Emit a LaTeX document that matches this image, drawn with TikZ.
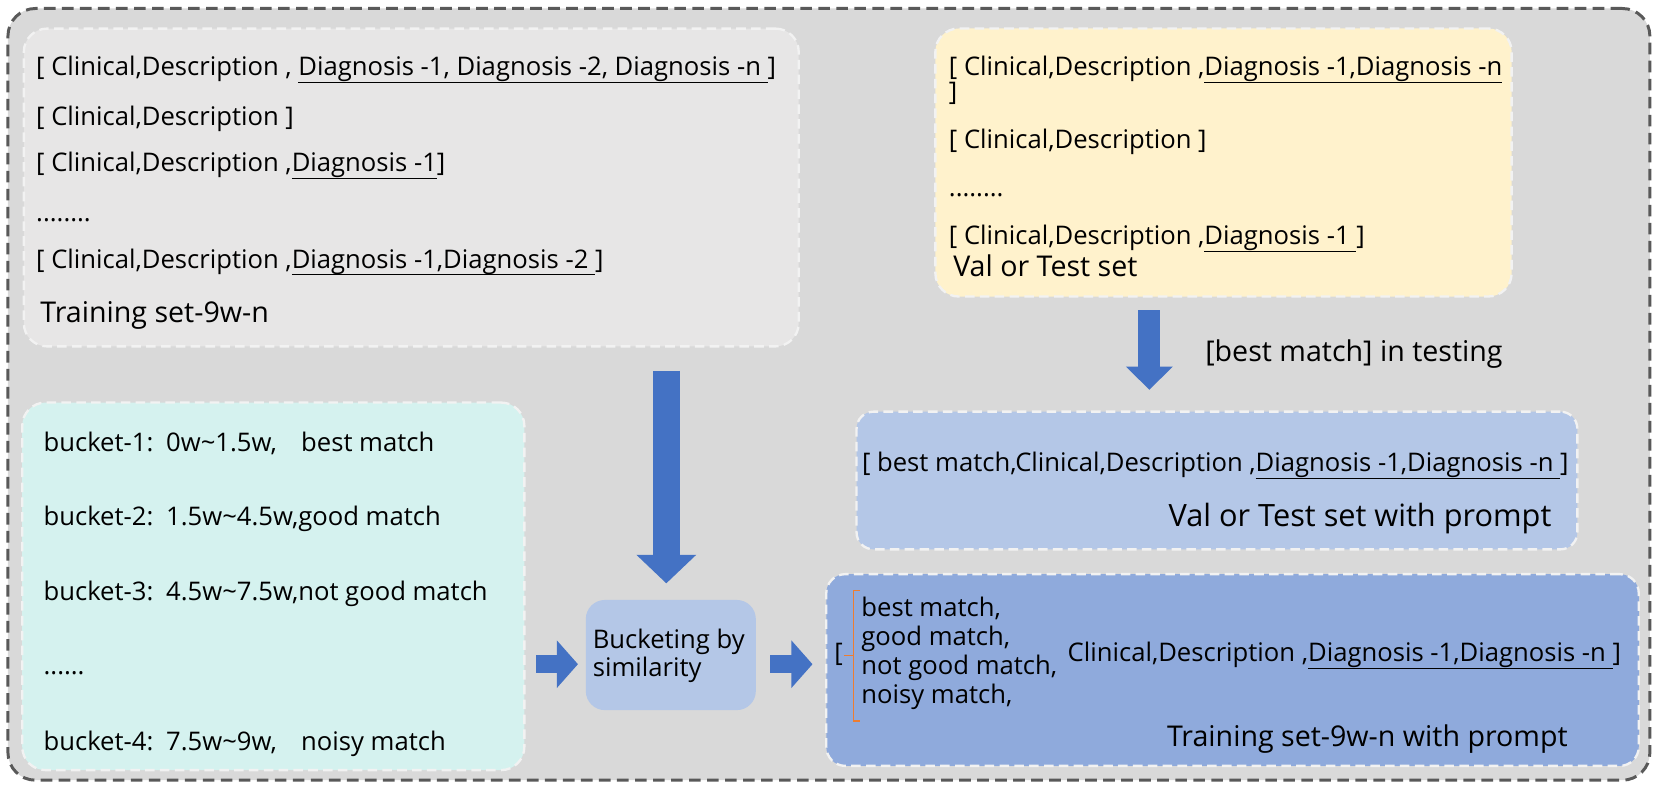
\documentclass[tikz,border=0pt]{standalone}
\usepackage{fontspec}
\setmainfont{Open Sans}
\usetikzlibrary{arrows.meta}
\definecolor{outerfill}{HTML}{D9D9D9}
\definecolor{outerline}{HTML}{595959}
\definecolor{greybox}{HTML}{E7E6E6}
\definecolor{yellowbox}{HTML}{FFF2CC}
\definecolor{tealbox}{HTML}{D5F2EF}
\definecolor{bluelight}{HTML}{B4C7E7}
\definecolor{bluemid}{HTML}{8FAADC}
\definecolor{arrowblue}{HTML}{4472C4}
\definecolor{bracketorange}{HTML}{ED7D31}
\definecolor{dashwhite}{HTML}{F2F2F2}
\newcommand{\myul}[1]{\setbox0=\hbox{#1}\leavevmode\rlap{\rule[-7pt]{\wd0}{1.1pt}}\box0}
\begin{document}
\begin{tikzpicture}[x=1pt,y=-1pt,
  panel/.style={draw=dashwhite, line width=2.2pt, dash pattern=on 9pt off 5pt, rounded corners=22pt, inner sep=0pt},
  txt/.style={anchor=base west, inner sep=0pt, font=\fontsize{24.2}{26}\selectfont},
  bigtxt/.style={anchor=base west, inner sep=0pt, font=\fontsize{27}{30}\selectfont},
  hugetxt/.style={anchor=base west, inner sep=0pt, font=\fontsize{29}{32}\selectfont},
  arrowL/.style={draw=arrowblue, line width=26pt, -{Triangle[length=27pt,width=55pt]}},
  arrowM/.style={draw=arrowblue, line width=21pt, -{Triangle[length=22pt,width=43pt]}},
  arrowS/.style={draw=arrowblue, line width=17pt, -{Triangle[length=20pt,width=44pt]}},
  orangebr/.style={draw=bracketorange, line width=1.2pt}
]
\useasboundingbox (0,0) rectangle (1568,747);
% outer frame
\node[draw=outerline, fill=outerfill, line width=2.8pt, dash pattern=on 11pt off 6pt,
  rounded corners=26pt, minimum width=1550pt, minimum height=728.5pt, inner sep=0pt] (outer) at (782.5,372.25) {};
% panels
\node[panel, fill=greybox, minimum width=731.5pt, minimum height=300pt] (train) at (388.25,177) {};
\node[panel, fill=yellowbox, minimum width=544pt, minimum height=253pt] (val) at (1155,153.4) {};
\node[panel, fill=tealbox, minimum width=474pt, minimum height=347pt] (teal) at (258,553.5) {};
\node[panel, fill=bluelight, minimum width=680.4pt, minimum height=130pt, rounded corners=16pt] (valp) at (1148.8,453.6) {};
\node[panel, fill=bluemid, minimum width=767pt, minimum height=181pt, rounded corners=18pt] (trainp) at (1163.5,632.5) {};
\node[fill=bluelight, rounded corners=18pt, minimum width=160.5pt, minimum height=104pt, inner sep=0pt] (bucket) at (633.25,618.35) {};

% training set text
\node[txt] (t1) at (34,71.7) {[ Clinical,Description , \myul{Diagnosis -1, Diagnosis -2, Diagnosis -n }]};
\node[txt] (t2) at (34,118) {[ Clinical,Description ]};
\node[txt] (t3) at (34,162) {[ Clinical,Description ,\myul{Diagnosis -1}]};
\node[txt] (t4) at (34,209) {........};
\node[txt] (t5) at (34,253) {[ Clinical,Description ,\myul{Diagnosis -1,Diagnosis -2 }]};
\node[bigtxt] (t6) at (38,304.6) {Training set-9w-n};

% val / test text
\node[txt] (v1) at (895.6,71.7) {[ Clinical,Description ,\myul{Diagnosis -1,Diagnosis -n}};
\node[txt] (v1b) at (895.6,95) {]};
\node[txt] (v2) at (895.6,140) {[ Clinical,Description ]};
\node[txt] (v3) at (895.6,185.7) {........};
\node[txt] (v4) at (895.6,231) {[ Clinical,Description ,\myul{Diagnosis -1 }]};
\node[bigtxt] (v5) at (899.7,261) {Val or Test set};
\node[bigtxt] (bm) at (1137.6,341.4) {[best match] in testing};

% buckets
\node[txt] (b1) at (41,425.8) {bucket-1:\hspace{0.5em}0w\textasciitilde1.5w,\hspace{0.95em}best match};
\node[txt] (b2) at (41,495.6) {bucket-2:\hspace{0.5em}1.5w\textasciitilde4.5w,good match};
\node[txt] (b3) at (41,566.4) {bucket-3:\hspace{0.5em}4.5w\textasciitilde7.5w,not good match};
\node[txt] (b4) at (41,637) {......};
\node[txt] (b5) at (41,708) {bucket-4:\hspace{0.5em}7.5w\textasciitilde9w,\hspace{0.95em}noisy match};

% bucketing box text
\node[txt] (k1) at (559.4,612) {Bucketing by};
\node[txt] (k2) at (559.4,638.8) {similarity};

% val with prompt
\node[txt] (p1) at (813.6,445.3) {[ best match,Clinical,Description ,\myul{Diagnosis -1,Diagnosis -n }]};
\node[hugetxt] (p2) at (1103,497.2) {Val or Test set with prompt};

% training with prompt
\node[txt] (q0) at (787.5,624.6) {[};
\node[txt] (q1) at (813,582) {best match,};
\node[txt] (q2) at (813,609) {good match,};
\node[txt] (q3) at (813,637) {not good match,};
\node[txt] (q4) at (813,664) {noisy match,};
\node[txt] (q5) at (1007.7,624.6) {Clinical,Description ,\myul{Diagnosis -1,Diagnosis -n }]};
\node[bigtxt] (q6) at (1101.5,705) {Training set-9w-n with prompt};
\coordinate (brT) at (805.5,557.6);
\coordinate (brB) at (805.5,680.6);
\coordinate (brM) at (805.5,619);
\draw[orangebr] ([xshift=6.5pt]brT) -- (brT) -- (brB) -- ([xshift=6.5pt]brB);
\draw[orangebr] (brM) -- ([xshift=-8.5pt]brM);

% arrows
\coordinate (aLs) at (629,350);
\coordinate (aLe) at (629,550.7);
\draw[arrowL] (aLs) -- (aLe);
\coordinate (aMs) at (1085,293);
\coordinate (aMe) at (1085,368);
\draw[arrowM] (aMs) -- (aMe);
\coordinate (aS1s) at (506,627);
\coordinate (aS1e) at (545.6,627);
\draw[arrowS] (aS1s) -- (aS1e);
\coordinate (aS2s) at (727,627);
\coordinate (aS2e) at (767,627);
\draw[arrowS] (aS2s) -- (aS2e);
\end{tikzpicture}
\end{document}
